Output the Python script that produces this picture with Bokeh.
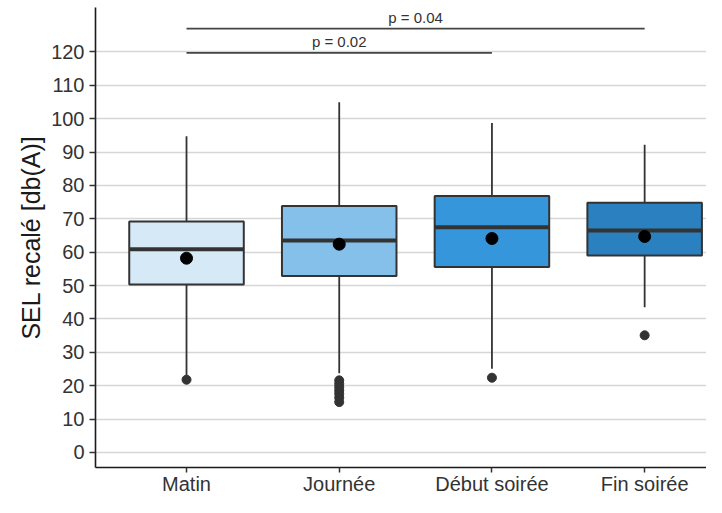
from bokeh.plotting import figure
from bokeh.models import Range1d, FixedTicker, ColumnDataSource
from bokeh.core.properties import value
from bokeh.embed import file_html
from bokeh.resources import INLINE

# ---- data ----
categories = ["Matin", "Journée", "Début soirée", "Fin soirée"]
q1 = [50.3, 52.9, 55.6, 59.0]
median = [60.9, 63.5, 67.5, 66.5]
q3 = [69.2, 73.8, 76.8, 74.8]
whisker_low = [23.0, 23.7, 25.1, 43.5]
whisker_high = [94.7, 104.9, 98.7, 92.2]
means = [58.2, 62.4, 64.1, 64.7]
outliers = {
    "Matin": [21.8],
    "Journée": [21.6, 20.6, 19.6, 18.6, 17.6, 16.4, 15.1],
    "Début soirée": [22.4],
    "Fin soirée": [35.1],
}
fill_colors = ["#d6e9f7", "#85c0ea", "#3596dc", "#2b80bf"]
y_ticks = [0, 10, 20, 30, 40, 50, 60, 70, 80, 90, 100, 110, 120]
comparisons = [  # (group a, group b, label, bar level)
    ("Matin", "Début soirée", "p = 0.02", 119.7),
    ("Matin", "Fin soirée", "p = 0.04", 127.0),
]

FONT = "Liberation Sans"
xpos = {c: i + 1 for i, c in enumerate(categories)}
xs = [xpos[c] for c in categories]
half = 0.375

p = figure(width=706, height=497, output_backend="svg", toolbar_location=None,
           x_range=Range1d(0.404, 4.405), y_range=Range1d(-4.5, 133.3),
           min_border_left=95, min_border_right=0, min_border_top=7, min_border_bottom=20)
p.outline_line_color = None
p.background_fill_color = "white"
p.border_fill_color = "white"

# grid
p.xgrid.grid_line_color = None
p.ygrid.grid_line_color = "#d6d6d6"
p.ygrid.grid_line_width = 1.5
p.yaxis.ticker = FixedTicker(ticks=y_ticks)
p.xaxis.ticker = FixedTicker(ticks=xs)
p.xaxis.major_label_overrides = {xpos[c]: c for c in categories}

for ax in (p.xaxis, p.yaxis):
    ax.axis_line_color = "#1a1a1a"
    ax.axis_line_width = 1.6
    ax.major_tick_line_color = "#333333"
    ax.major_tick_line_width = 1.5
    ax.major_tick_out = 6
    ax.major_tick_in = 0
    ax.minor_tick_line_color = None
    ax.major_label_text_font = FONT
    ax.major_label_text_font_size = "20px"
    ax.major_label_text_color = "#333333"

p.xaxis.major_tick_out = 5
p.xaxis.major_label_standoff = 0
p.xaxis.major_label_text_line_height = 0.8
p.yaxis.major_label_standoff = 5
p.yaxis.axis_label = "SEL recalé [db(A)]"
p.yaxis.axis_label_text_font = FONT
p.yaxis.axis_label_text_font_size = "25px"
p.yaxis.axis_label_text_font_style = "normal"
p.yaxis.axis_label_text_color = "#1a1a1a"
p.yaxis.axis_label_standoff = 3

# whiskers
p.segment(x0=xs, y0=q3, x1=xs, y1=whisker_high, line_color="#333333", line_width=1.8)
p.segment(x0=xs, y0=q1, x1=xs, y1=whisker_low, line_color="#333333", line_width=1.8)

# boxes
box_src = ColumnDataSource(dict(left=[x - half for x in xs], right=[x + half for x in xs],
                                bottom=q1, top=q3, fill=fill_colors))
p.quad(left="left", right="right", bottom="bottom", top="top", fill_color="fill",
       line_color="#333333", line_width=2, source=box_src)

# medians
p.segment(x0=[x - half for x in xs], y0=median, x1=[x + half for x in xs], y1=median,
          line_color="#333333", line_width=4)

# outliers
ox, oy = [], []
for c in categories:
    for v in outliers[c]:
        ox.append(xpos[c])
        oy.append(v)
p.scatter(ox, oy, size=9, fill_color="#333333", line_color="#333333")

# means
p.scatter(xs, means, size=12, fill_color="black", line_color="black")

# significance brackets
for a, b, lab, lvl in comparisons:
    p.segment(x0=[xpos[a]], y0=[lvl], x1=[xpos[b]], y1=[lvl], line_color="#444444", line_width=1.8)
    p.text(x=[(xpos[a] + xpos[b]) / 2], y=[lvl], text=[lab], text_align="center",
           text_baseline="bottom", y_offset=-3, text_font=value(FONT),
           text_font_size="15px", text_color="#333333")

open("out.html", "w").write(file_html(p, INLINE))
